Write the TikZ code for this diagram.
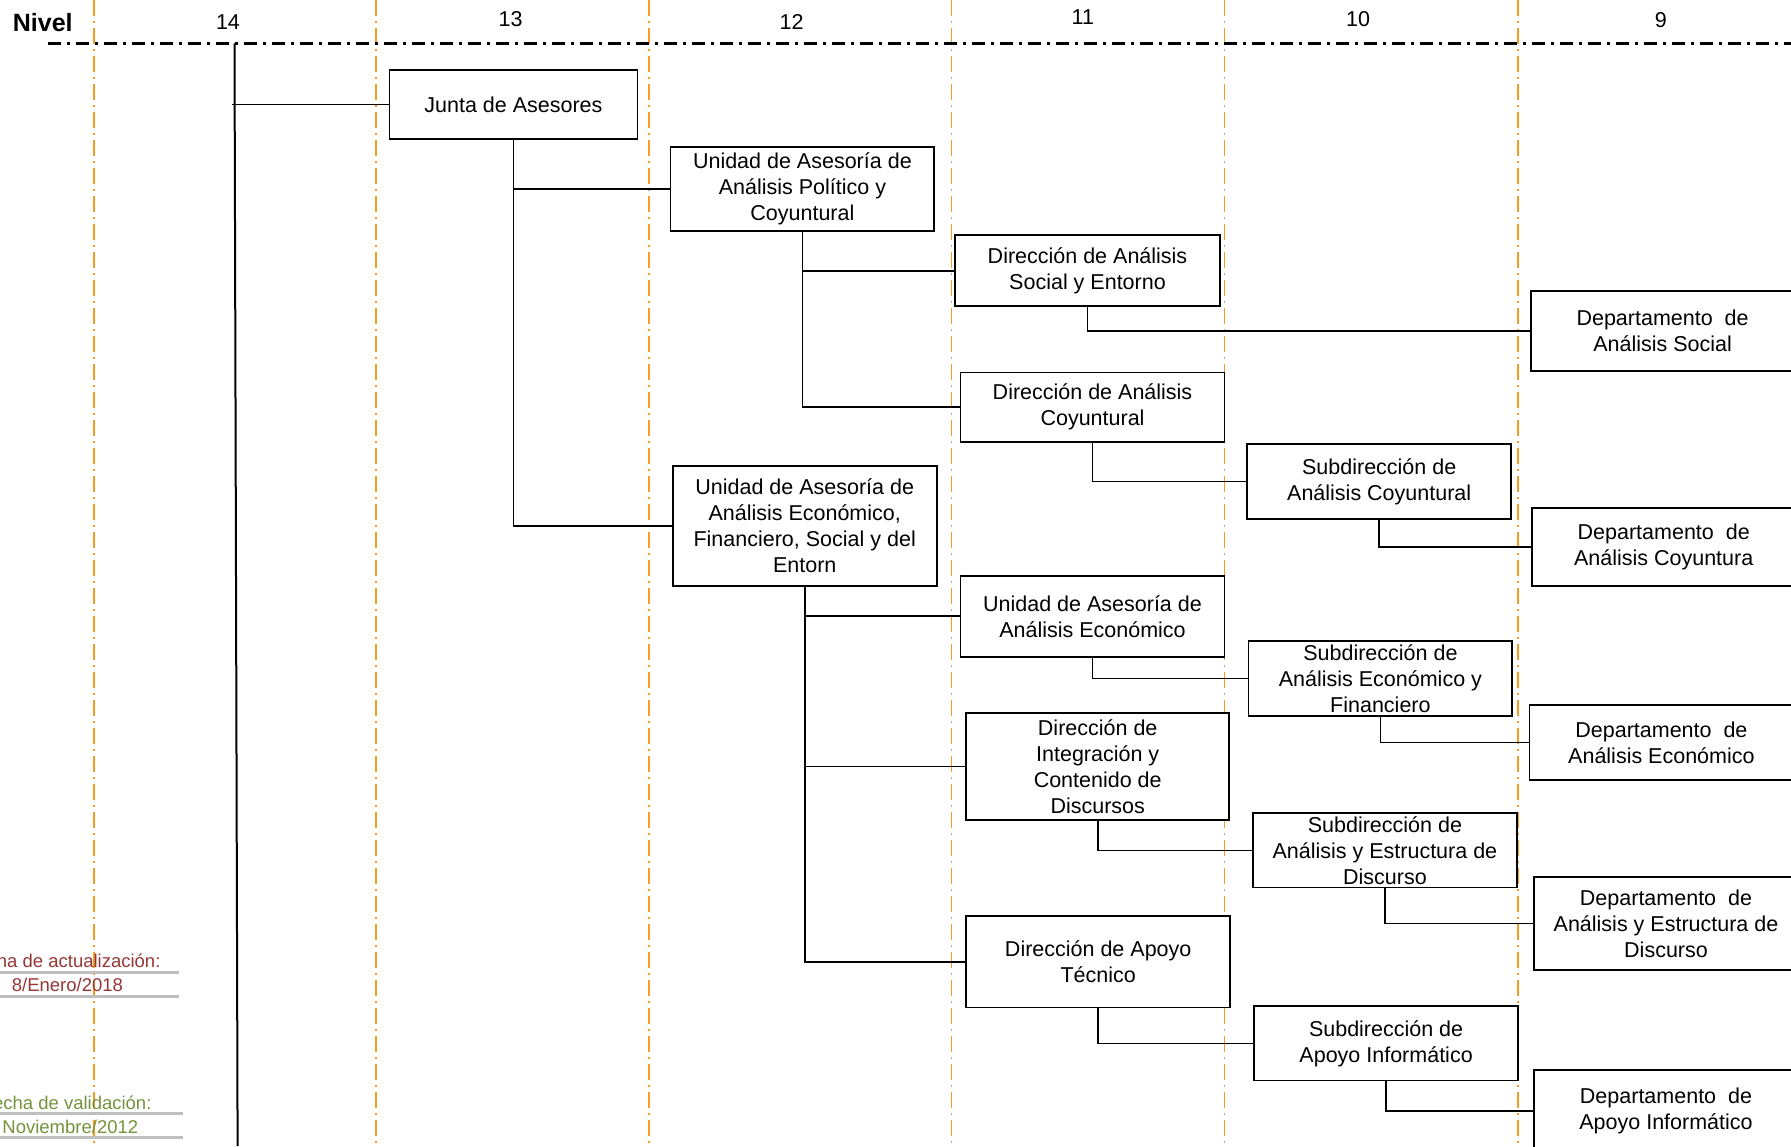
\documentclass[tikz,border=0pt]{standalone}
\usepackage{fontspec}
\setmainfont{Liberation Sans}
\usepackage{tikz}

\definecolor{naranja}{RGB}{250,155,30}
\definecolor{actual}{RGB}{149,55,53}
\definecolor{valida}{RGB}{118,146,60}
\definecolor{raya}{RGB}{191,191,191}

\begin{document}
\begin{tikzpicture}[x=1pt,y=-1pt,
  caja/.style={draw,line width=1.8pt,rectangle,inner sep=0pt,fill=white,align=center,font=\fontsize{21.5}{26}\selectfont},
  conector/.style={line width=1.8pt},
  guia/.style={draw=naranja,line width=1.8pt,dash pattern=on 16pt off 5pt on 2pt off 5pt},
  eje/.style={line width=2.4pt,dash pattern=on 13pt off 6pt on 3pt off 6pt},
  nivel/.style={anchor=base,font=\fontsize{21.5}{26}\selectfont},
  fecha/.style={font=\fontsize{18.5}{22}\selectfont}]
\useasboundingbox (0,0) rectangle (1791,1146);
\clip (0,0) rectangle (1791,1146);

\foreach \x in {93.7,375.8,648.8,951.5,1224.4,1518}
  \draw[guia] (\x,0) -- (\x,1146);
\draw[eje] (48,43.4) -- (1791,43.4);

\node[anchor=base,font=\bfseries\fontsize{25}{30}\selectfont] (Nivel) at (42.8,31.8){Nivel};
\node[nivel] (N14) at (228,29.5){14};
\node[nivel] (N13) at (510.6,26.1){13};
\node[nivel] (N12) at (791.6,29.5){12};
\node[nivel] (N11) at (1082.8,24.9){11};
\node[nivel] (N10) at (1358,26.1){10};
\node[nivel] (N9) at (1660.8,27.2){9};

\coordinate (Tope) at (234.5,43.4);
\coordinate (Pie) at (237.6,1146);
\coordinate (Ramal) at (232,104.5);
\draw[line width=2pt] (Tope) -- (Pie);

\node[caja,minimum width=248pt,minimum height=69.6pt] (JA) at (513.4,104.5){Junta de Asesores};
\node[caja,minimum width=263.8pt,minimum height=83.4pt] (UAPC) at (802.4,189){Unidad de Asesoría de\\Análisis Político y\\Coyuntural};
\node[caja,minimum width=265pt,minimum height=70.8pt] (DASE) at (1087.5,270.7){Dirección de Análisis\\Social y Entorno};
\node[caja,minimum width=264pt,minimum height=79.9pt] (DAS) at (1662.6,331.3){Departamento~ de\\Análisis Social};
\node[caja,minimum width=263.9pt,minimum height=69.6pt] (DAC) at (1092.5,407.2){Dirección de Análisis\\Coyuntural};
\node[caja,minimum width=263.8pt,minimum height=74.3pt] (SAC) at (1379.2,481.5){Subdirección de\\Análisis Coyuntural};
\node[caja,minimum width=263.8pt,minimum height=120pt] (UAEF) at (804.7,526){Unidad de Asesoría de\\Análisis Económico,\\Financiero, Social y del\\Entorn};
\node[caja,minimum width=264pt,minimum height=77.7pt] (DACo) at (1663.7,547.2){Departamento~ de\\Análisis Coyuntura};
\node[caja,minimum width=263.9pt,minimum height=81.1pt] (UAAE) at (1092.5,616.3){Unidad de Asesoría de\\Análisis Económico};
\node[caja,minimum width=263.9pt,minimum height=75.4pt] (SAEF) at (1380.4,678.5){Subdirección de\\Análisis Económico y\\Financiero};
\node[caja,minimum width=264pt,minimum height=75.4pt] (DAE) at (1661.4,742.4){Departamento~ de\\Análisis Económico};
\node[caja,minimum width=262.7pt,minimum height=107.4pt] (DICD) at (1097.7,766.4){Dirección de\\Integración y\\Contenido de\\Discursos};
\node[caja,minimum width=263.8pt,minimum height=74.3pt] (SAED) at (1384.9,850.4){Subdirección de\\Análisis y Estructura de\\Discurso};
\node[caja,minimum width=264pt,minimum height=92.5pt] (DAED) at (1666,923.5){Departamento~ de\\Análisis y Estructura de\\Discurso};
\node[caja,minimum width=263.7pt,minimum height=91.4pt] (DAT) at (1098.2,961.7){Dirección de Apoyo\\Técnico};
\node[caja,minimum width=263.8pt,minimum height=74.2pt] (SAI) at (1386.1,1043.4){Subdirección de\\Apoyo Informático};
\node[caja,minimum width=264pt,minimum height=81.2pt] (DAI) at (1666,1110.8){Departamento~ de\\Apoyo Informático};

\draw[conector] (Ramal) -- (JA.west);
\foreach \from/\to in {JA/UAPC,JA/UAEF,UAPC/DASE,UAPC/DAC,DASE/DAS,DAC/SAC,SAC/DACo,UAEF/UAAE,UAEF/DICD,UAEF/DAT,UAAE/SAEF,SAEF/DAE,DICD/SAED,SAED/DAED,DAT/SAI,SAI/DAI}
  \draw[conector] (\from.south) |- (\to.west);

\node[fecha,text=actual,anchor=base east] (FA) at (164,967){Fecha de actualización:};
\node[fecha,text=actual,anchor=base] (FAd) at (67.4,991){8/Enero/2018};
\node[fecha,text=valida,anchor=base east] (FV) at (155,1109.8){Fecha de validación:};
\node[fecha,text=valida,anchor=base] (FVd) at (70.3,1133.8){Noviembre/2012};
\draw[raya,line width=3pt] (0,972) -- (179.3,972);
\draw[raya,line width=3pt] (0,996) -- (179.3,996);
\draw[raya,line width=3pt] (0,1113.6) -- (182.7,1113.6);
\draw[raya,line width=3pt] (0,1137.6) -- (182.7,1137.6);
\end{tikzpicture}
\end{document}
